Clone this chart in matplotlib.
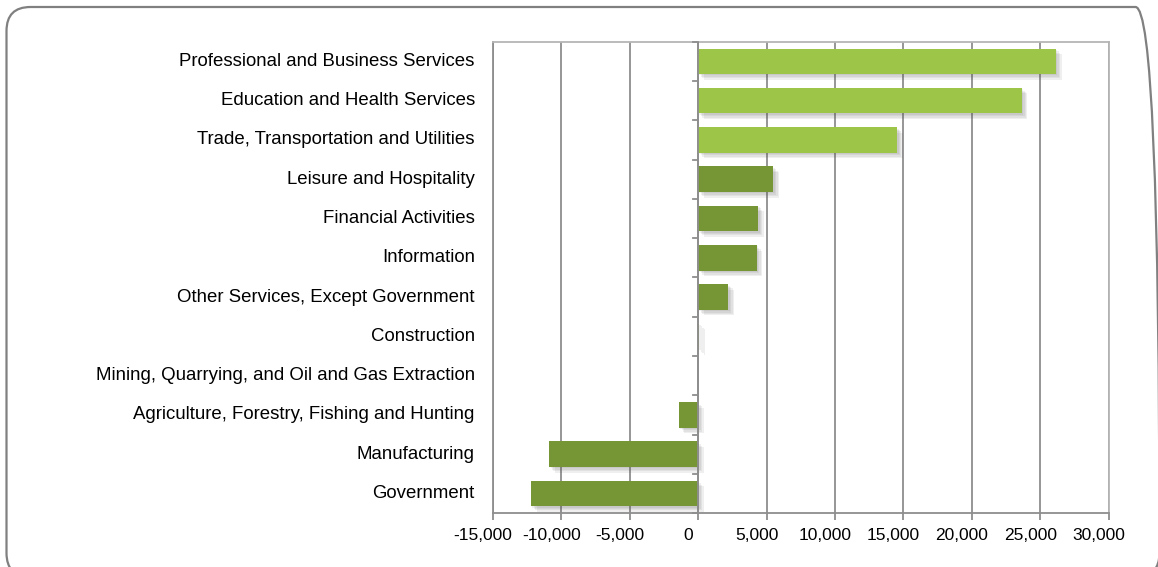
import numpy as np
import matplotlib
matplotlib.use('Agg')
import matplotlib.pyplot as plt
from matplotlib.patches import FancyBboxPatch
import matplotlib.patheffects as pe
import matplotlib.transforms as mtransforms

plt.rcParams['font.family'] = ['Liberation Sans', 'DejaVu Sans']

# industries, top to bottom
industries = ['Professional and Business Services',
              'Education and Health Services',
              'Trade, Transportation and Utilities',
              'Leisure and Hospitality',
              'Financial Activities',
              'Information',
              'Other Services, Except Government',
              'Construction',
              'Mining, Quarrying, and Oil and Gas Extraction',
              'Agriculture, Forestry, Fishing and Hunting',
              'Manufacturing',
              'Government']
change = [26150, 23650, 14550, 5500, 4400, 4280, 2220, 100, 0, -1400, -10880, -12200]
highlight = [True, True, True, False, False, False, False, False, False, False, False, False]
x_ticks = [-15000, -10000, -5000, 0, 5000, 10000, 15000, 20000, 25000, 30000]

light_green = '#9dc547'
dark_green = '#769635'
grid_col = '#8e8e8e'

fig = plt.figure(figsize=(11.58, 5.67), dpi=100)
ax = fig.add_axes([0.4255, 0.095, 0.532, 0.8315])

# rounded outer frame (runs off the bottom/right edge like the original)
frame = FancyBboxPatch((6.5, -10), 1153, 570, boxstyle='round,pad=0,rounding_size=24',
                       transform=None, facecolor='none', edgecolor='#808080', linewidth=1.6)
fig.patches.append(frame)

y = np.arange(len(industries))
colors = [light_green if h else dark_green for h in highlight]
bars = ax.barh(y, change, height=0.65, color=colors, zorder=3)
# soft drop shadow
shadow = [pe.SimplePatchShadow(offset=(d, -d), shadow_rgbFace='#555555', alpha=0.09) for d in (1, 2, 3, 4)]
for b in bars:
    b.set_path_effects(shadow + [pe.Normal()])

ax.set_ylim(len(industries) - 0.5, -0.5)
ax.set_xlim(-15000, 30000)
ax.set_xticks(x_ticks)
ax.set_xticklabels([f'{v:,}' for v in x_ticks], fontsize=12.5)
ax.xaxis.grid(True, color=grid_col, linewidth=1.3, zorder=0)
ax.set_axisbelow(True)
ax.tick_params(axis='x', length=5, width=1.3, color=grid_col, pad=6)
# labels sit a bit left of their ticks
shift = mtransforms.ScaledTranslation(-10 / 100, 0, fig.dpi_scale_trans)
for lbl in ax.get_xticklabels():
    lbl.set_transform(lbl.get_transform() + shift)

# category labels on left, ticks on zero line
ax.set_yticks([])
for i, name in enumerate(industries):
    ax.text(-0.029, i, name, transform=ax.get_yaxis_transform(), ha='right', va='center', fontsize=13.4)
for k in range(len(industries) + 1):
    ax.plot([-400, 0], [k - 0.5, k - 0.5], color=grid_col, linewidth=1.3, zorder=4, clip_on=False)
ax.axvline(0, color=grid_col, linewidth=1.3, zorder=4)

for s in ['top', 'right']:
    ax.spines[s].set_color('#b5b5b5')
    ax.spines[s].set_linewidth(1.3)
ax.spines['left'].set_color(grid_col)
ax.spines['left'].set_linewidth(1.3)
ax.spines['bottom'].set_color(grid_col)
ax.spines['bottom'].set_linewidth(1.3)

fig.savefig('out.png', dpi=100)
